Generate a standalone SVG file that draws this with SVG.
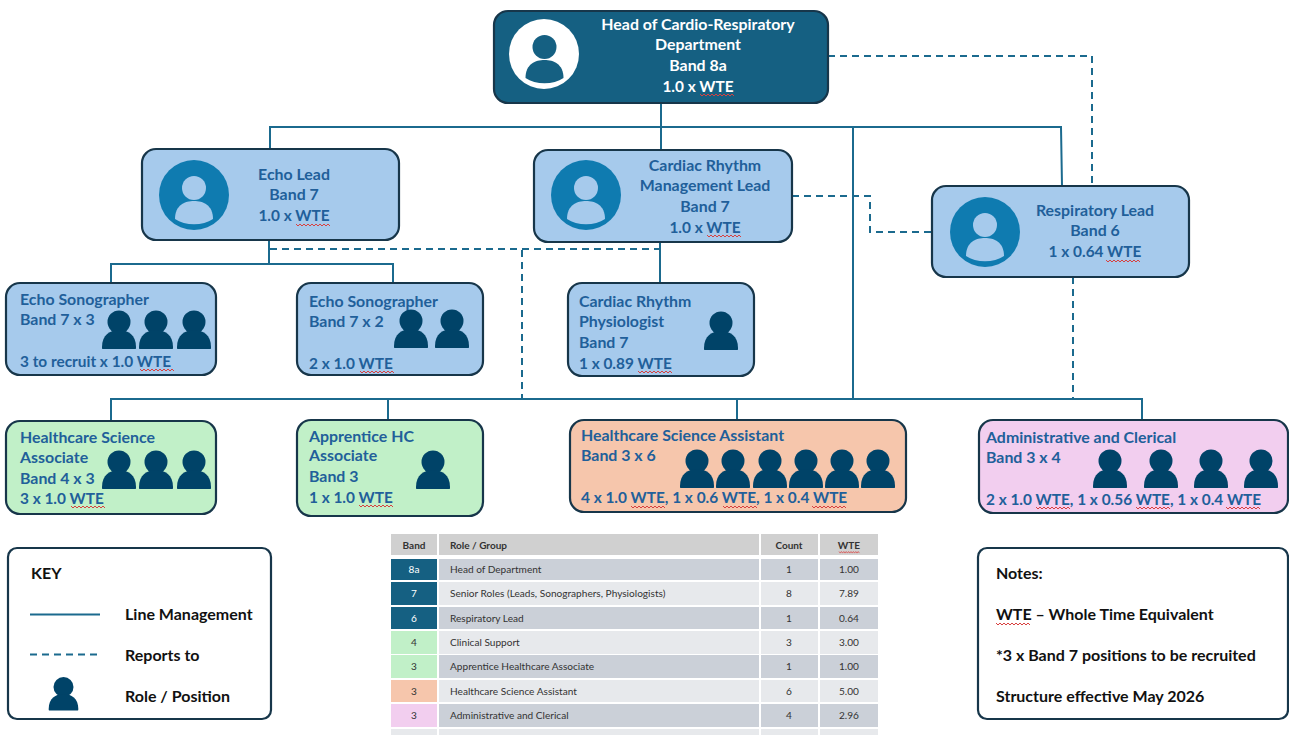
<svg xmlns="http://www.w3.org/2000/svg" width="1289" height="735" viewBox="0 0 1289 735">
<style>
text{font-family:"Lato","Open Sans","Liberation Sans",sans-serif;font-weight:700;font-size:15.9px;fill:#215f9a}
.n{font-size:15.4px}
.c{text-anchor:middle}
.w{fill:#fff}
.k{fill:#111;font-size:16px}
.box{stroke:#17364a;stroke-width:2.2}
.blue{fill:#a6caec}.green{fill:#c1f0c8}.peach{fill:#f6c6ac}.pink{fill:#f2ceef}
.plain{fill:#fff}
.lm{fill:none;stroke:#1b6a8e;stroke-width:2}
.dash{fill:none;stroke:#1b6a8e;stroke-width:2;stroke-dasharray:7 5}
.sq{fill:none;stroke:#d8403f;stroke-width:1}
.t{font-size:10.1px;font-weight:400;fill:#333}
.th{font-size:10px;font-weight:700;fill:#333}
.tw{font-size:10.1px;font-weight:400;fill:#fff}
.h{fill:#d0d0d0}.a{fill:#cbd0d8}.b{fill:#e7e9ec}.d{fill:#156082}
</style>
<defs>
<g id="p"><circle cx="0" cy="0" r="11.5" fill="#004368"/><path d="M-16.5 27C-17 27-17 26-17 25C-17 13-9 8 0 8C9 8 17 13 17 25C17 26 17 27 16.5 27Z" fill="#004368"/></g>
<path id="sq" class="sq" d="M0 0l2 2l2-2l2 2l2-2l2 2l2-2l2 2l2-2l2 2l2-2l2 2l2-2l2 2l2-2l2 2l2-2l2 2"/>
<g id="av"><circle cx="0" cy="-8" r="12"/><path d="M-19 23C-19 9-9 5 0 5C9 5 19 9 19 23C9 30-9 30-19 23Z"/></g>
</defs>

<g id="connectors">
<path class="lm" d="M661 103V150M270 149V127H1061L1062 186M853 127V399M111 421V399H1142V420M388 399V420M737 399V420"/>
<path class="lm" d="M269 240V264M111 283V264H393V283M660 242V283"/>
<path class="dash" d="M828 56H1092V186"/>
<path class="dash" d="M792 196H870V232H932"/>
<path class="dash" d="M270 249H660"/>
<path class="dash" d="M522 250V399"/>
<path class="dash" d="M1073 277V399"/>
</g>

<g id="head">
<rect class="box" x="494" y="11" width="334" height="92" rx="14" fill="#156082"/>
<circle cx="544" cy="54" r="35" fill="#fff"/>
<use href="#av" x="544.5" y="55" fill="#156082"/>
<text class="c w" x="698" y="30">Head of Cardio-Respiratory</text>
<text class="c w" x="698" y="50">Department</text>
<text class="c w" x="698" y="71">Band 8a</text>
<text class="c w n" x="698" y="92">1.0 x WTE</text>
<use href="#sq" x="700" y="94"/>
</g>

<g id="echo-lead">
<rect class="box blue" x="142" y="149" width="257" height="91" rx="14"/>
<circle cx="194" cy="195" r="35" fill="#0f7bb0"/>
<use href="#av" x="194" y="196" fill="#a6caec"/>
<text class="c" x="294" y="180">Echo Lead</text>
<text class="c" x="294" y="200">Band 7</text>
<text class="c n" x="294" y="221">1.0 x WTE</text>
<use href="#sq" x="296" y="224"/>
</g>

<g id="crm-lead">
<rect class="box blue" x="534" y="150" width="258" height="92" rx="14"/>
<circle cx="586" cy="195" r="35" fill="#0f7bb0"/>
<use href="#av" x="586" y="196" fill="#a6caec"/>
<text class="c" x="705" y="171">Cardiac Rhythm</text>
<text class="c" x="705" y="191">Management Lead</text>
<text class="c" x="705" y="212">Band 7</text>
<text class="c n" x="705" y="233">1.0 x WTE</text>
<use href="#sq" x="707" y="235"/>
</g>

<g id="resp-lead">
<rect class="box blue" x="932" y="186" width="257" height="91" rx="14"/>
<circle cx="985" cy="232" r="35" fill="#0f7bb0"/>
<use href="#av" x="985" y="233" fill="#a6caec"/>
<text class="c" x="1095" y="216">Respiratory Lead</text>
<text class="c" x="1095" y="236">Band 6</text>
<text class="c n" x="1095" y="257">1 x 0.64 WTE</text>
<use href="#sq" x="1106" y="260"/>
</g>

<g id="echo-sonographer-3">
<rect class="box blue" x="6" y="283" width="210" height="92" rx="14"/>
<text x="20" y="305">Echo Sonographer</text>
<text x="20" y="325">Band 7 x 3</text>
<text class="n" x="20" y="367">3 to recruit x 1.0 WTE</text>
<use href="#p" x="119" y="322"/><use href="#p" x="156" y="322"/><use href="#p" x="194" y="322"/>
<use href="#sq" x="140" y="369"/>
</g>

<g id="echo-sonographer-2">
<rect class="box blue" x="297" y="283" width="186" height="92" rx="14"/>
<text x="309" y="307">Echo Sonographer</text>
<text x="309" y="327">Band 7 x 2</text>
<text class="n" x="309" y="369">2 x 1.0 WTE</text>
<use href="#p" x="411" y="321"/><use href="#p" x="452" y="321"/>
<use href="#sq" x="360" y="371"/>
</g>

<g id="cardiac-physiologist">
<rect class="box blue" x="568" y="283" width="186" height="93" rx="14"/>
<text x="579" y="307">Cardiac Rhythm</text>
<text x="579" y="327">Physiologist</text>
<text x="579" y="348">Band 7</text>
<text class="n" x="579" y="369">1 x 0.89 WTE</text>
<use href="#p" x="721" y="323"/>
<use href="#sq" x="638" y="371"/>
</g>

<g id="hc-science-associate">
<rect class="box green" x="6" y="421" width="210" height="93" rx="14"/>
<text x="20" y="443">Healthcare Science</text>
<text x="20" y="463">Associate</text>
<text x="20" y="484">Band 4 x 3</text>
<text class="n" x="20" y="504">3 x 1.0 WTE</text>
<use href="#p" x="119" y="462"/><use href="#p" x="156" y="462"/><use href="#p" x="194" y="462"/>
<use href="#sq" x="71" y="506"/>
</g>

<g id="apprentice">
<rect class="box green" x="297" y="420" width="186" height="96" rx="14"/>
<text x="309" y="442">Apprentice HC</text>
<text x="309" y="461">Associate</text>
<text x="309" y="482">Band 3</text>
<text class="n" x="309" y="503">1 x 1.0 WTE</text>
<use href="#p" x="433" y="462"/>
<use href="#sq" x="359" y="505"/>
</g>

<g id="hc-science-assistant">
<rect class="box peach" x="570" y="420" width="336" height="92" rx="14"/>
<text x="581" y="441">Healthcare Science Assistant</text>
<text x="581" y="461">Band 3 x 6</text>
<text class="n" x="581" y="503">4 x 1.0 WTE, 1 x 0.6 WTE, 1 x 0.4 WTE</text>
<use href="#p" x="697" y="461"/><use href="#p" x="733" y="461"/><use href="#p" x="770" y="461"/><use href="#p" x="806" y="461"/><use href="#p" x="842" y="461"/><use href="#p" x="878" y="461"/>
<use href="#sq" x="631" y="506"/><use href="#sq" x="723" y="506"/><use href="#sq" x="812" y="506"/>
</g>

<g id="admin-clerical">
<rect class="box pink" x="979" y="420" width="309" height="93" rx="14"/>
<text x="986" y="443">Administrative and Clerical</text>
<text x="986" y="463">Band 3 x 4</text>
<text class="n" x="986" y="505">2 x 1.0 WTE, 1 x 0.56 WTE, 1 x 0.4 WTE</text>
<use href="#p" x="1110" y="461"/><use href="#p" x="1161" y="461"/><use href="#p" x="1211" y="461"/><use href="#p" x="1261" y="461"/>
<use href="#sq" x="1036" y="507"/><use href="#sq" x="1136" y="507"/><use href="#sq" x="1226" y="507"/>
</g>

<g id="key">
<rect class="box plain" x="8" y="548" width="263" height="171" rx="9"/>
<text class="k" x="31" y="579">KEY</text>
<path class="lm" d="M30 614.500H100"/>
<path class="dash" d="M30 654.500H100"/>
<use href="#p" transform="translate(63.500 687) scale(.87)"/>
<text class="k" x="125" y="620">Line Management</text>
<text class="k" x="125" y="661">Reports to</text>
<text class="k" x="125" y="702">Role / Position</text>
</g>

<g id="notes">
<rect class="box plain" x="978" y="548" width="310" height="171" rx="9"/>
<text class="k" x="996" y="579">Notes:</text>
<text class="k" x="996" y="620">WTE – Whole Time Equivalent</text>
<use href="#sq" x="996" y="623"/>
<text class="k" x="996" y="661">*3 x Band 7 positions to be recruited</text>
<text class="k" x="996" y="702">Structure effective May 2026</text>
</g>

<g id="table">
<rect class="h" x="391" y="534" width="46" height="21"/><rect class="h" x="439" y="534" width="320" height="21"/><rect class="h" x="761" y="534" width="57" height="21"/><rect class="h" x="820" y="534" width="58" height="21"/>
<text class="th c" x="414" y="548.500">Band</text><text class="th" x="450" y="548.500">Role / Group</text><text class="th c" x="789" y="548.500">Count</text><text class="th c" x="849" y="548.500">WTE</text>
<use href="#sq" transform="translate(839 551.500) scale(.6 .8)"/>

<rect class="d" x="391" y="559" width="46" height="21"/><rect class="a" x="439" y="559" width="320" height="21"/><rect class="a" x="761" y="559" width="57" height="21"/><rect class="a" x="820" y="559" width="58" height="21"/>
<text class="tw c" x="414" y="572.500">8a</text><text class="t" x="450" y="572.500">Head of Department</text><text class="t c" x="789" y="572.500">1</text><text class="t c" x="849" y="572.500">1.00</text>

<rect class="d" x="391" y="582" width="46" height="23"/><rect class="b" x="439" y="582" width="320" height="23"/><rect class="b" x="761" y="582" width="57" height="23"/><rect class="b" x="820" y="582" width="58" height="23"/>
<text class="tw c" x="414" y="597">7</text><text class="t" x="450" y="597">Senior Roles (Leads, Sonographers, Physiologists)</text><text class="t c" x="789" y="597">8</text><text class="t c" x="849" y="597">7.89</text>

<rect class="d" x="391" y="607" width="46" height="22"/><rect class="a" x="439" y="607" width="320" height="22"/><rect class="a" x="761" y="607" width="57" height="22"/><rect class="a" x="820" y="607" width="58" height="22"/>
<text class="tw c" x="414" y="621.500">6</text><text class="t" x="450" y="621.500">Respiratory Lead</text><text class="t c" x="789" y="621.500">1</text><text class="t c" x="849" y="621.500">0.64</text>

<rect class="green" x="391" y="631" width="46" height="23"/><rect class="b" x="439" y="631" width="320" height="23"/><rect class="b" x="761" y="631" width="57" height="23"/><rect class="b" x="820" y="631" width="58" height="23"/>
<text class="t c" x="414" y="645.500">4</text><text class="t" x="450" y="645.500">Clinical Support</text><text class="t c" x="789" y="645.500">3</text><text class="t c" x="849" y="645.500">3.00</text>

<rect class="green" x="391" y="655" width="46" height="23"/><rect class="a" x="439" y="655" width="320" height="23"/><rect class="a" x="761" y="655" width="57" height="23"/><rect class="a" x="820" y="655" width="58" height="23"/>
<text class="t c" x="414" y="669.500">3</text><text class="t" x="450" y="669.500">Apprentice Healthcare Associate</text><text class="t c" x="789" y="669.500">1</text><text class="t c" x="849" y="669.500">1.00</text>

<rect class="peach" x="391" y="680" width="46" height="22"/><rect class="b" x="439" y="680" width="320" height="22"/><rect class="b" x="761" y="680" width="57" height="22"/><rect class="b" x="820" y="680" width="58" height="22"/>
<text class="t c" x="414" y="695">3</text><text class="t" x="450" y="695">Healthcare Science Assistant</text><text class="t c" x="789" y="695">6</text><text class="t c" x="849" y="695">5.00</text>

<rect class="pink" x="391" y="704" width="46" height="23"/><rect class="a" x="439" y="704" width="320" height="23"/><rect class="a" x="761" y="704" width="57" height="23"/><rect class="a" x="820" y="704" width="58" height="23"/>
<text class="t c" x="414" y="719">3</text><text class="t" x="450" y="719">Administrative and Clerical</text><text class="t c" x="789" y="719">4</text><text class="t c" x="849" y="719">2.96</text>

<rect class="b" x="391" y="729" width="46" height="6"/><rect class="b" x="439" y="729" width="320" height="6"/><rect class="b" x="761" y="729" width="57" height="6"/><rect class="b" x="820" y="729" width="58" height="6"/>
</g>
</svg>
